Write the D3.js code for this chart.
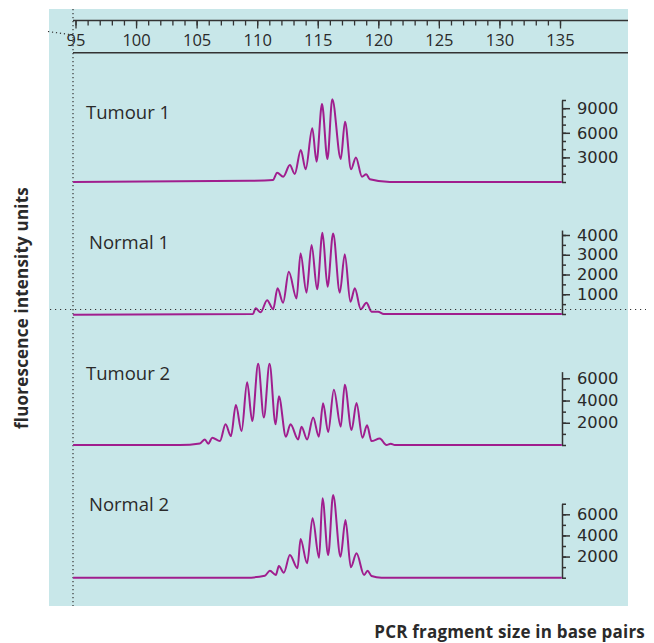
<!DOCTYPE html>
<html>
<head>
    <meta charset="UTF-8">
    <title>PCR fragment size profiles</title>
    <script src="https://d3js.org/d3.v7.min.js"></script>
    <style>
        body {
            margin: 0;
            padding: 0;
            background: #fff;
        }
        text {
            font-family: "Open Sans", sans-serif;
            fill: #2a2a2a;
        }
        .trace {
            fill: none;
            stroke: #a01e8e;
            stroke-width: 2;
        }
        .axis path, .axis line {
            stroke: #333;
        }
    </style>
</head>
<body>
    <svg id="chart" width="654" height="643"></svg>

    <script>
        // fragment size axis (base pairs)
        const sizeTicks = d3.range(95, 136);
        const sizeLabels = [95, 100, 105, 110, 115, 120, 125, 130, 135];

        // traces: [size in bp, fluorescence intensity]
        const tumour1 = [
            [94.8, 0], [109.4, 150], [111.3, 250], [111.65, 1130], [112.15, 650], [112.7, 2070],
            [113.1, 980], [113.6, 3900], [114.0, 1550], [114.55, 6550], [114.9, 2480],
            [115.35, 9500], [115.8, 2800], [116.2, 10100], [116.9, 2800], [117.25, 7350],
            [117.75, 1550], [118.15, 3000], [118.65, 650], [119.0, 940], [119.3, 330],
            [120.95, 0], [135.15, 0]
        ];
        const normal1 = [
            [94.8, -40], [109.65, 0], [109.87, 290], [110.28, 85], [110.82, 700], [111.32, 240],
            [111.68, 1300], [112.14, 570], [112.61, 2140], [113.25, 790], [113.58, 3070],
            [114.07, 1080], [114.49, 3490], [114.95, 1250], [115.39, 4110], [115.81, 1380],
            [116.27, 4080], [116.82, 1080], [117.23, 3020], [117.7, 620], [118.06, 1300],
            [118.55, 240], [119.02, 570], [119.44, 120], [119.98, 120], [120.45, 0], [135.15, 0]
        ];
        const tumour2 = [
            [94.8, 0], [103.62, 0], [105.27, 140], [105.68, 500], [105.96, 110], [106.29, 650],
            [106.92, 350], [107.39, 1860], [107.83, 800], [108.24, 3590], [108.71, 1260],
            [109.17, 5650], [109.59, 2160], [110.08, 7300], [110.55, 2470], [111.02, 7300],
            [111.52, 1860], [111.79, 4380], [112.37, 750], [112.75, 1860], [113.38, 500],
            [113.66, 1650], [114.12, 500], [114.62, 2470], [115.09, 750], [115.44, 3750],
            [115.86, 1160], [116.33, 4980], [116.9, 1650], [117.23, 5410], [117.79, 1350],
            [118.2, 3770], [118.69, 650], [119.07, 1770], [119.44, 350], [120.12, 590],
            [120.67, 0], [121.03, 110], [121.36, 0], [135.15, 0]
        ];
        const normal2 = [
            [94.8, 0], [109.12, 0], [110.63, 190], [111.05, 660], [111.54, 255], [111.79, 1100],
            [112.2, 470], [112.7, 2150], [113.33, 890], [113.58, 3660], [114.12, 1360],
            [114.57, 5620], [115.11, 1890], [115.39, 7510], [115.86, 2150], [116.27, 7820],
            [116.88, 1990], [117.29, 5460], [117.73, 980], [118.2, 2310], [118.83, 255],
            [119.11, 660], [119.44, 160], [120.26, 0], [135.15, 0]
        ];

        // intensity tick labels per panel
        const tumour1Labels = [3000, 6000, 9000];
        const normal1Labels = [1000, 2000, 3000, 4000];
        const tumour2Labels = [2000, 4000, 6000];
        const normal2Labels = [2000, 4000, 6000];

        const panels = [
            { name: "Tumour 1", data: tumour1, labels: tumour1Labels, step: 1000, axisTop: 10000, ref: 9000, y0: 182, yRef: 108.2, labelX: 86, labelY: 119 },
            { name: "Normal 1", data: normal1, labels: normal1Labels, step: 500, axisTop: 4250, ref: 4000, y0: 314, yRef: 235, labelX: 89, labelY: 249 },
            { name: "Tumour 2", data: tumour2, labels: tumour2Labels, step: 1000, axisTop: 6600, ref: 6000, y0: 445, yRef: 378.3, labelX: 86, labelY: 380 },
            { name: "Normal 2", data: normal2, labels: normal2Labels, step: 1000, axisTop: 7000, ref: 6000, y0: 577.7, yRef: 514.3, labelX: 89, labelY: 511 }
        ];

        const svg = d3.select("#chart");

        // background panel
        svg.append("rect")
            .attr("x", 49).attr("y", 9)
            .attr("width", 579).attr("height", 597)
            .attr("fill", "#c8e7e9");

        const x = d3.scaleLinear()
            .domain([95, 135])
            .range([75.5, 560]);

        // top size scale
        const topY = 20.5;
        const axisMinor = svg.append("g")
            .attr("class", "axis")
            .attr("transform", `translate(0,${topY})`)
            .call(d3.axisBottom(x).tickValues(sizeTicks).tickSize(5).tickFormat(""));
        axisMinor.select(".domain").remove();

        const axisMajor = svg.append("g")
            .attr("class", "axis")
            .attr("transform", `translate(0,${topY})`)
            .call(d3.axisBottom(x).tickValues(sizeLabels).tickSize(8).tickPadding(6));
        axisMajor.select(".domain").remove();
        axisMajor.selectAll("text")
            .style("font-size", "16.5px")
            .attr("fill", "#333");
        svg.selectAll(".axis line").attr("stroke-width", 1.3);

        svg.append("line")
            .attr("x1", 73).attr("x2", 628)
            .attr("y1", topY).attr("y2", topY)
            .attr("stroke", "#333").attr("stroke-width", 1.6);
        svg.append("line")
            .attr("x1", 73).attr("x2", 628)
            .attr("y1", 52.7).attr("y2", 52.7)
            .attr("stroke", "#333").attr("stroke-width", 1.6);

        // dotted guides
        svg.append("line")
            .attr("x1", 73).attr("x2", 73)
            .attr("y1", 9).attr("y2", 606)
            .attr("stroke", "#333").attr("stroke-width", 1.2)
            .attr("stroke-dasharray", "1.2,2.8");
        svg.append("line")
            .attr("x1", 48).attr("x2", 73)
            .attr("y1", 31.5).attr("y2", 35)
            .attr("stroke", "#333").attr("stroke-width", 1.2)
            .attr("stroke-dasharray", "1.2,2.8");

        const line = d3.line()
            .x(d => x(d[0]))
            .curve(d3.curveMonotoneX);

        panels.forEach(p => {
            const y = d3.scaleLinear()
                .domain([0, p.ref])
                .range([p.y0, p.yRef]);

            const axisScale = d3.scaleLinear()
                .domain([0, p.axisTop])
                .range([y(0), y(p.axisTop)]);

            const g = svg.append("g")
                .attr("class", "axis")
                .attr("transform", "translate(562,0)");

            g.call(d3.axisRight(axisScale)
                .tickValues(d3.range(0, p.axisTop + 1, p.step))
                .tickSize(4).tickSizeOuter(0).tickFormat(""));

            const gl = svg.append("g")
                .attr("class", "axis")
                .attr("transform", "translate(562,0)")
                .call(d3.axisRight(y).tickValues(p.labels).tickSize(8).tickPadding(7).tickFormat(d3.format("d")));
            gl.select(".domain").remove();
            gl.selectAll("text")
                .style("font-family", "'DejaVu Sans', sans-serif")
                .style("font-size", "16.3px")
                .attr("fill", "#333");
            g.selectAll("path, line").attr("stroke-width", 1.5);
            gl.selectAll("line").attr("stroke-width", 1.5);

            svg.append("path")
                .datum(p.data)
                .attr("class", "trace")
                .attr("d", line.y(d => y(d[1])));

            svg.append("text")
                .attr("x", p.labelX)
                .attr("y", p.labelY)
                .style("font-size", "18.5px")
                .text(p.name);
        });

        // dotted reference line under Normal 1
        svg.append("line")
            .attr("x1", 50).attr("x2", 646)
            .attr("y1", 309.5).attr("y2", 309.5)
            .attr("stroke", "#333").attr("stroke-width", 1.2)
            .attr("stroke-dasharray", "1.2,3.8");

        // axis titles
        svg.append("text")
            .attr("transform", "translate(28,308) rotate(-90)")
            .attr("text-anchor", "middle")
            .style("font-size", "17px")
            .style("font-weight", "bold")
            .style("letter-spacing", "0.2px")
            .text("fluorescence intensity units");

        svg.append("text")
            .attr("x", 645)
            .attr("y", 638)
            .attr("text-anchor", "end")
            .style("font-size", "17px")
            .style("font-weight", "bold")
            .style("letter-spacing", "0.2px")
            .text("PCR fragment size in base pairs");
    </script>
</body>
</html>
